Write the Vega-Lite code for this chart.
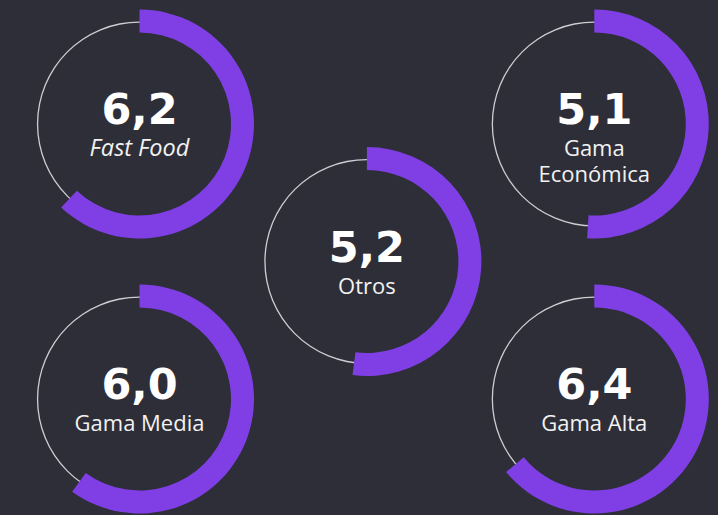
{
  "$schema": "https://vega.github.io/schema/vega-lite/v6.json",
  "width": 718,
  "height": 515,
  "padding": 0,
  "autosize": {"type": "none"},
  "background": "#2e2e38",
  "config": {
    "view": {"stroke": null},
    "locale": {"number": {"decimal": ",", "thousands": ".", "grouping": [3], "currency": ["", " €"]}}
  },
  "data": {
    "values": [
      {"category": "Fast Food", "score": 6.2, "col": "left", "row": "top"},
      {"category": "Gama\nEconómica", "score": 5.1, "col": "right", "row": "top"},
      {"category": "Otros", "score": 5.2, "col": "center", "row": "middle"},
      {"category": "Gama Media", "score": 6.0, "col": "left", "row": "bottom"},
      {"category": "Gama Alta", "score": 6.4, "col": "right", "row": "bottom"}
    ]
  },
  "encoding": {
    "x": {"field": "col", "type": "nominal", "scale": {"type": "point", "domain": ["left", "center", "right"], "range": [139.5, 594.3], "padding": 0}, "axis": null},
    "y": {"field": "row", "type": "nominal", "scale": {"type": "point", "domain": ["top", "middle", "bottom"], "range": [124, 399], "padding": 0}, "axis": null}
  },
  "layer": [
    {
      "mark": {"type": "arc", "theta": 0, "theta2": 6.2832, "radius": 102.6, "radius2": 101.3, "color": "#cdcdd2"}
    },
    {
      "mark": {"type": "arc", "radius": 114.5, "radius2": 91.5, "color": "#7f3fe5"},
      "encoding": {
        "theta": {"field": "score", "type": "quantitative", "scale": {"domain": [0, 10], "range": [0, 6.283185]}, "stack": null},
        "theta2": {"datum": 0}
      }
    },
    {
      "mark": {"type": "text", "font": "DejaVu Sans", "fontWeight": "bold", "fontSize": 43, "color": "#ffffff", "baseline": "alphabetic", "align": "center"},
      "encoding": {"text": {"field": "score", "type": "quantitative", "format": ".1f"}}
    },
    {
      "transform": [{"filter": "datum.category !== 'Fast Food'"}],
      "mark": {"type": "text", "font": "Open Sans", "fontSize": 22, "color": "#f2f2f2", "baseline": "alphabetic", "align": "center", "dy": 32, "lineBreak": "\n", "lineHeight": 26},
      "encoding": {"text": {"field": "category", "type": "nominal"}}
    },
    {
      "transform": [{"filter": "datum.category === 'Fast Food'"}],
      "mark": {"type": "text", "font": "Open Sans", "fontStyle": "italic", "fontSize": 23.5, "color": "#f2f2f2", "baseline": "alphabetic", "align": "center", "dy": 32},
      "encoding": {"text": {"field": "category", "type": "nominal"}}
    }
  ]
}
